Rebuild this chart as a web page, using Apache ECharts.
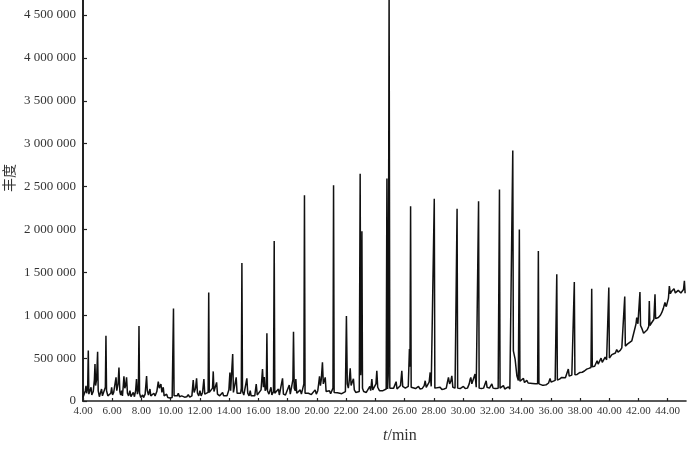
<!DOCTYPE html>
<html>
<head>
<meta charset="utf-8">
<script src="https://cdn.jsdelivr.net/npm/echarts@6/dist/echarts.min.js"></script>
<style>html,body{margin:0;padding:0;background:#fff}#c{width:700px;height:454px}</style>
</head>
<body>
<div id="c"></div>
<script>
// x-axis tick labels (retention time, min) and y-axis ticks (abundance)
const xTicks = [4, 6, 8, 10, 12, 14, 16, 18, 20, 22, 24, 26, 28, 30, 32, 34, 36, 38, 40, 42, 44];
const yTicks = [0, 500000, 1000000, 1500000, 2000000, 2500000, 3000000, 3500000, 4000000, 4500000];

// chromatogram trace [time (min), abundance]
const trace4to14 = [
 [4.00,40000],[4.10,60000],[4.16,120000],[4.205,178000],[4.25,90000],[4.32,150000],[4.362,590000],[4.40,80000],
 [4.48,60000],[4.55,160000],[4.60,70000],[4.70,110000],[4.78,250000],[4.82,430000],[4.86,180000],[4.93,250000],
 [5.00,575000],[5.04,120000],[5.12,50000],[5.20,70000],[5.27,140000],[5.33,60000],[5.45,80000],[5.53,160000],
 [5.57,760000],[5.61,120000],[5.70,60000],[5.80,50000],[5.90,90000],[5.96,160000],[6.02,70000],[6.10,100000],
 [6.20,210000],[6.26,275000],[6.31,120000],[6.40,200000],[6.46,390000],[6.52,110000],[6.58,70000],[6.64,120000],
 [6.70,60000],[6.76,190000],[6.80,287000],[6.86,150000],[6.92,180000],[6.98,275000],[7.04,90000],[7.12,60000],
 [7.21,120000],[7.28,50000],[7.38,60000],[7.44,100000],[7.52,50000],[7.60,120000],[7.66,256000],[7.72,80000],
 [7.79,140000],[7.83,875000],[7.87,90000],[7.95,40000],[8.02,35000],[8.08,70000],[8.14,40000],[8.25,80000],
 [8.35,290000],[8.40,120000],[8.48,70000],[8.58,140000],[8.64,60000],[8.75,50000],[8.85,90000],[8.93,60000],
 [9.05,110000],[9.15,225000],[9.22,150000],[9.27,130000],[9.33,198000],[9.40,100000],[9.49,160000],[9.55,60000],
 [9.65,50000],[9.72,80000],[9.80,40000],[9.95,35000],[10.10,40000],[10.15,60000],[10.19,1078000],[10.23,60000],
 [10.35,50000],[10.45,60000],[10.52,90000],[10.60,50000],[10.75,60000],[10.86,80000],[10.95,45000],[11.10,50000],
 [11.20,75000],[11.30,45000],[11.45,60000],[11.54,244000],[11.60,100000],[11.70,150000],[11.77,264000],[11.83,90000],
 [11.92,60000],[12.00,120000],[12.08,60000],[12.18,100000],[12.27,256000],[12.33,80000],[12.45,60000],[12.56,100000],
 [12.60,1264000],[12.64,100000],[12.75,80000],[12.86,150000],[12.91,345000],[12.96,110000],[13.05,90000],[13.14,217000],
 [13.20,80000],[13.35,60000],[13.45,70000],[13.55,100000],[13.62,60000],[13.75,70000],[13.85,60000],[13.98,130000],
 [14.05,333000],[14.10,120000],[14.18,140000],[14.24,547000],[14.29,100000]
];
const trace14to25 = [
 [14.38,90000],[14.48,275000],[14.54,90000],[14.65,70000],[14.78,90000],[14.83,150000],[14.87,1610000],[14.91,110000],
 [15.00,70000],[15.12,90000],[15.21,264000],[15.27,90000],[15.36,60000],[15.44,120000],[15.50,60000],[15.62,50000],
 [15.75,60000],[15.85,198000],[15.92,70000],[16.05,80000],[16.18,130000],[16.28,372000],[16.34,160000],[16.40,280000],
 [16.46,120000],[16.54,150000],[16.58,790000],[16.62,120000],[16.72,80000],[16.86,160000],[16.92,70000],[17.03,110000],
 [17.08,1864000],[17.12,90000],[17.24,70000],[17.37,140000],[17.43,70000],[17.56,90000],[17.65,264000],[17.71,80000],
 [17.85,70000],[17.98,80000],[18.11,186000],[18.18,80000],[18.30,100000],[18.36,250000],[18.40,806000],[18.45,150000],
 [18.52,120000],[18.56,256000],[18.62,90000],[18.75,80000],[18.86,130000],[18.94,80000],[19.05,90000],[19.11,200000],
 [19.15,2400000],[19.19,90000],[19.30,80000],[19.42,90000],[19.54,110000],[19.62,75000],[19.75,80000],[19.88,130000],
 [19.96,80000],[20.06,120000],[20.12,200000],[20.18,287000],[20.24,180000],[20.30,250000],[20.38,450000],[20.44,200000],
 [20.50,180000],[20.57,275000],[20.63,110000],[20.75,90000],[20.86,120000],[20.94,85000],[21.05,90000],[21.10,150000],
 [21.14,2515000],[21.18,100000],[21.30,90000],[21.40,95000],[21.48,115000],[21.56,90000],[21.70,85000],[21.82,95000],
 [21.95,110000],[22.02,992000],[22.08,200000],[22.15,150000],[22.22,250000],[22.28,380000],[22.34,180000],[22.42,220000],
 [22.50,260000],[22.56,130000],[22.66,100000],[22.78,95000],[22.90,110000],[22.96,2648000],[23.00,300000],[23.04,500000],
 [23.08,1980000],[23.12,150000],[23.20,110000],[23.30,130000],[23.38,100000],[23.50,110000],[23.62,170000],[23.68,120000],
 [23.76,256000],[23.82,130000],[23.95,140000],[24.04,200000],[24.10,352000],[24.16,160000],[24.28,120000],[24.40,130000],
 [24.52,120000],[24.64,110000],[24.74,140000],[24.79,2593000],[24.84,140000],[24.88,300000],[24.94,4800000],[24.99,150000]
];
const trace25to35 = [
 [25.10,140000],[25.25,150000],[25.42,225000],[25.48,140000],[25.60,150000],[25.72,180000],[25.81,352000],[25.87,170000],
 [25.97,190000],[26.05,150000],[26.15,150000],[26.25,170000],[26.33,605000],[26.37,400000],[26.41,2270000],[26.45,160000],
 [26.58,140000],[26.75,145000],[26.95,170000],[27.05,140000],[27.20,145000],[27.34,180000],[27.41,236000],[27.48,160000],
 [27.60,170000],[27.68,220000],[27.75,333000],[27.82,170000],[27.95,150000],[28.03,2357000],[28.07,150000],[28.20,140000],
 [28.43,160000],[28.55,135000],[28.70,140000],[28.85,150000],[28.93,220000],[29.00,275000],[29.08,200000],[29.16,230000],
 [29.23,294000],[29.30,160000],[29.45,150000],[29.59,2240000],[29.63,150000],[29.80,145000],[30.02,170000],[30.15,145000],
 [30.30,150000],[30.42,200000],[30.48,250000],[30.53,275000],[30.60,200000],[30.70,220000],[30.82,314000],[30.90,160000],
 [30.98,150000],[31.06,2330000],[31.10,150000],[31.25,145000],[31.40,150000],[31.58,236000],[31.64,160000],[31.80,150000],
 [31.97,200000],[32.05,150000],[32.20,145000],[32.40,150000],[32.49,2465000],[32.53,150000],[32.65,145000],[32.76,180000],
 [32.85,140000],[32.98,140000],[33.10,165000],[33.20,140000],[33.32,160000],[33.40,2920000],[33.44,585000],[33.56,488000],
 [33.68,294000],[33.78,240000],[33.85,2000000],[33.89,230000],[34.00,220000],[34.13,264000],[34.20,215000],[34.36,240000],
 [34.45,210000],[34.58,215000],[34.75,205000],[34.95,200000],[35.10,200000],[35.15,1748000],[35.19,200000],[35.30,190000]
];
const trace35to45 = [
 [35.41,185000],[35.55,185000],[35.70,190000],[35.85,210000],[35.95,264000],[36.02,220000],[36.15,230000],[36.30,240000],
 [36.41,1477000],[36.45,245000],[36.60,255000],[36.75,275000],[36.85,260000],[37.00,270000],[37.12,280000],[37.20,372000],
 [37.26,290000],[37.35,295000],[37.44,302000],[37.52,295000],[37.61,1387000],[37.65,305000],[37.80,310000],[37.92,320000],
 [38.00,333000],[38.15,335000],[38.30,350000],[38.46,372000],[38.60,380000],[38.75,390000],[38.80,1310000],[38.84,400000],
 [38.91,420000],[39.00,405000],[39.10,420000],[39.17,470000],[39.24,430000],[39.34,450000],[39.44,500000],[39.52,450000],
 [39.62,470000],[39.72,512000],[39.82,480000],[39.92,490000],[39.97,1322000],[40.01,500000],[40.10,505000],[40.18,540000],
 [40.30,530000],[40.42,560000],[40.51,600000],[40.60,570000],[40.75,590000],[40.86,620000],[40.96,620000],[41.06,1217000],
 [41.10,640000],[41.24,663000],[41.36,660000],[41.54,700000],[41.66,720000],[41.77,857000],[41.83,900000],[41.88,973000],
 [41.96,900000],[42.05,880000],[42.10,1271000],[42.14,880000],[42.22,850000],[42.35,790000],[42.45,779000],[42.60,830000],
 [42.70,870000],[42.74,1166000],[42.78,880000],[42.91,915000],[43.05,950000],[43.13,1244000],[43.17,960000],[43.36,973000],
 [43.50,1000000],[43.59,1030000],[43.70,1080000],[43.81,1148000],[43.90,1100000],[43.97,1090000],[44.05,1200000],[44.11,1340000],
 [44.18,1250000],[44.27,1280000],[44.35,1270000],[44.43,1310000],[44.52,1260000],[44.62,1256000],[44.72,1290000],[44.80,1280000],
 [44.90,1260000],[44.99,1256000],[45.08,1300000],[45.14,1400000],[45.19,1256000]
];

const trace = trace4to14.concat(trace14to25, trace25to35, trace35to45);

const chart = echarts.init(document.getElementById('c'), null, {renderer: 'canvas'});
const axisFont = 'Liberation Serif';
const fmtY = v => String(v).replace(/\B(?=(\d{3})+(?!\d))/g, ' ');
chart.setOption({
  animation: false,
  backgroundColor: '#fff',
  grid: {left: 83, right: 14, top: 0, bottom: 53, containLabel: false},
  xAxis: {
    type: 'value', min: xTicks[0], max: 45.25, interval: 2,
    axisLine: {show: true, onZero: false, lineStyle: {color: '#222', width: 1.6}},
    axisTick: {show: true, inside: true, length: 3, lineStyle: {color: '#222', width: 1.2}},
    splitLine: {show: false},
    axisLabel: {
      showMaxLabel: false, margin: 5, color: '#333', fontFamily: axisFont, fontSize: 11,
      formatter: v => xTicks.indexOf(v) >= 0 ? v.toFixed(2) : ''
    }
  },
  yAxis: {
    type: 'value', min: 0, max: 4675000, interval: 500000,
    axisLine: {show: true, lineStyle: {color: '#222', width: 2}},
    axisTick: {show: true, inside: true, length: 4, lineStyle: {color: '#222', width: 1.2}},
    splitLine: {show: false},
    axisLabel: {
      showMaxLabel: false, margin: 7, color: '#333', fontFamily: axisFont, fontSize: 13,
      formatter: v => yTicks.indexOf(v) >= 0 ? fmtY(v) : ''
    }
  },
  graphic: [
    {type: 'text', x: 2, y: 192, rotation: Math.PI / 2,
     style: {text: '丰度', font: '14px "Noto Sans CJK SC"', fill: '#333', textVerticalAlign: 'top'}},
    {type: 'text', x: 383, y: 428,
     style: {text: '{i|t}/min', font: '16px "Liberation Serif"', fill: '#333',
       rich: {i: {fontStyle: 'italic', fontFamily: 'Liberation Serif', fontSize: 16, fill: '#333'}}}}
  ],
  series: [{
    type: 'line', data: trace, symbol: 'none', clip: true,
    lineStyle: {color: '#111', width: 1.5}
  }]
});
</script>
</body>
</html>
